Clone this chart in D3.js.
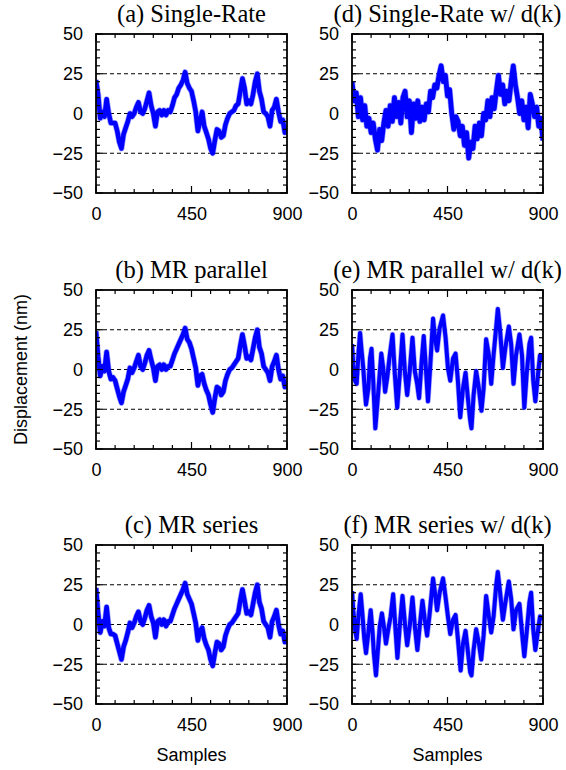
<!DOCTYPE html>
<html>
<head>
<meta charset="utf-8">
<script src="https://cdn.jsdelivr.net/npm/d3@7"></script>
<style>
  body { margin: 0; background: #fff; }
  text { fill: #000; }
</style>
</head>
<body>
<div id="graphicContainer"></div>
<script>
// ---- data (samples vs displacement in nm) ----
var titles = ["(a) Single-Rate", "(b) MR parallel", "(c) MR series",
              "(d) Single-Rate w/ d(k)", "(e) MR parallel w/ d(k)", "(f) MR series w/ d(k)"];

// a-d are read every 10 samples
var grid10 = d3.range(0, 901, 10);

var singleRate = [21,12,-3,1,-2,9,0,-6,-6,-6, -11,-18,-22,-13,-9,-5,0,-2,0,4,
  7,1,0,3,8,13,5,0,-8,1, 2,-1,2,-1,2,1,5,10,12,16, 18,21,26,19,16,14,8,1,-11,-5,
  1,-8,-12,-16,-22,-25,-17,-10,-11,-15, -14,-7,-3,0,1,2,5,6,14,22,
  16,6,8,6,12,20,25,14,9,1, 0,-2,-8,2,4,9,1,-5,-4,-12, -9];

var mrParallel = [24,8,-4,2,-1,11,-1,-6,-5,-7, -12,-17,-21,-14,-10,-6,1,-2,1,5,
  9,2,0,4,9,12,6,1,-7,2, 3,0,3,0,2,2,6,10,13,16, 19,22,26,19,17,13,7,1,-10,-4,
  -3,-9,-13,-16,-22,-27,-18,-11,-12,-16, -14,-7,-3,0,1,3,5,7,15,22,
  15,7,8,6,13,20,25,14,10,2, 0,-2,-7,2,5,9,0,-6,-4,-11, -10];

var mrSeries = [23,7,-5,2,-1,11,-2,-6,-6,-7, -12,-17,-22,-14,-10,-5,1,-2,1,5,
  8,2,0,4,9,12,5,1,-8,2, 3,0,3,-1,2,2,6,10,13,16, 19,22,26,19,16,13,7,1,-10,-4,
  -2,-9,-13,-16,-22,-26,-18,-11,-12,-16, -14,-7,-3,0,1,3,5,7,15,22,
  15,7,8,6,13,20,25,14,10,2, 0,-2,-8,2,5,9,0,-6,-4,-11, -10];

var singleRateD = [20,8,13,-2,10,-4,5,-8,-3,-12, -6,-16,-23,-10,-17,-6,2,-8,5,-5,
  10,-2,7,-6,10,14,-2,8,-12,6, -3,8,-5,4,-4,6,1,14,10,18, 16,24,30,20,24,11,15,0,-10,-2,
  -5,-14,-8,-20,-12,-28,-18,-22,-8,-16, -6,-14,0,-4,8,-2,10,3,14,24,
  12,18,6,14,8,20,30,18,10,0, 8,-4,4,-9,12,6,-2,4,-8,-3, -17];

// e and f are read at their peaks and troughs
var mrParallelDSamples = [0,6,14,22,30,38,45,53,61,66, 77,85,92,100,110,119,128,138,147,156,
  166,178,191,202,213,225,238,249,260,272, 285,296,307,316,327,338,347,358,369,382,
  391,401,413,429,441,452,463,476,488,499, 510,523,535,546,557,563,573,585,598,610,
  620,632,645,656,667,679,687,698,711,723, 739,750,761,773,789,801,812,823,836,844,
  854,864,875,886,898];
var mrParallelD = [16,3,-7,-9,9,23,12,1,-14,-22, -12,7,13,-7,-37,-22,-7,10,1,-14,
  -5,9,22,-3,-24,-3,22,-1,-16,-1, 20,-1,-9,-18,3,21,3,-20,3,32,
  20,12,26,34,20,1,-7,7,10,-7, -30,-12,-2,-18,-32,-37,-16,-1,-12,-26,
  -12,19,9,-9,9,26,38,24,1,14, 27,16,-9,9,22,9,-24,-3,16,20,
  -7,-20,-5,9,5];

var mrSeriesDSamples = [0,6,14,22,30,41,50,58,66,77, 88,97,103,113,122,131,141,150,160,171,
  182,194,205,214,225,238,249,260,272,285, 296,308,319,332,343,354,366,382,391,401,
  413,429,441,452,463,476,488,499,512,523, 535,546,557,563,573,585,598,609,620,632,
  645,656,667,679,687,698,711,723,739,750, 761,773,789,801,812,823,836,844,854,864,
  875,886,898];
var mrSeriesD = [21,9,-3,-9,5,19,5,-9,-18,-5, 9,-5,-18,-32,-16,-1,7,-1,-12,-3,
  5,19,-3,-21,-1,18,1,-13,-1,17, -1,-16,-1,15,3,-7,7,29,20,9,
  20,29,17,5,-6,3,6,-9,-29,-12, -4,-17,-30,-32,-16,-3,-12,-22,-7,18,
  5,-5,5,24,33,20,3,14,27,16, -3,9,13,-5,-20,-5,14,20,-3,-16,
  -5,5,3];

var xTickLabels = [0, 450, 900];
var yTickLabels = [-50, -25, 0, 25, 50];
var gridValues = [-25, 0, 25];

// ---- layout ----
var W = 566, H = 770;
var colX = [96, 352];
var rowY = [34, 290, 545];
var pw = 191, ph = 159;

var panels = [
  { title: titles[0], col: 0, row: 0, xs: grid10, ys: singleRate, w: 4.6 },
  { title: titles[1], col: 0, row: 1, xs: grid10, ys: mrParallel, w: 4.6 },
  { title: titles[2], col: 0, row: 2, xs: grid10, ys: mrSeries, w: 4.6 },
  { title: titles[3], col: 1, row: 0, xs: grid10, ys: singleRateD, w: 4.8 },
  { title: titles[4], col: 1, row: 1, xs: mrParallelDSamples, ys: mrParallelD, w: 4 },
  { title: titles[5], col: 1, row: 2, xs: mrSeriesDSamples, ys: mrSeriesD, w: 4 }
];

var svg = d3.select("#graphicContainer").append("svg")
  .attr("width", W).attr("height", H);

var sans = "'Liberation Sans', Arial, sans-serif";
var serif = "'Liberation Serif', 'Times New Roman', serif";

var x = d3.scaleLinear().domain([0, 900]).range([0, pw]);
var y = d3.scaleLinear().domain([-50, 50]).range([ph, 0]);

panels.forEach(function(p, i) {
  var g = svg.append("g")
    .attr("transform", "translate(" + colX[p.col] + "," + rowY[p.row] + ")");

  g.append("clipPath").attr("id", "clip" + i)
    .append("rect").attr("width", pw).attr("height", ph);

  // dashed reference lines
  g.selectAll(".grid").data(gridValues).enter().append("line")
    .attr("x1", 0).attr("x2", pw)
    .attr("y1", d => y(d)).attr("y2", d => y(d))
    .attr("stroke", "#000").attr("stroke-width", 1)
    .attr("stroke-dasharray", "4,3");

  // trace: a soft wide band under a solid core, like the dense noisy record
  var pts = p.xs.map((s, k) => [s, p.ys[k]]);
  var line = d3.line().x(d => x(d[0])).y(d => y(d[1]));
  g.append("path").datum(pts)
    .attr("clip-path", "url(#clip" + i + ")")
    .attr("d", line)
    .attr("fill", "none")
    .attr("stroke", "#4040ff").attr("stroke-opacity", 0.45)
    .attr("stroke-width", p.w + 1.4)
    .attr("stroke-linejoin", "round");
  g.append("path").datum(pts)
    .attr("clip-path", "url(#clip" + i + ")")
    .attr("d", line)
    .attr("fill", "none")
    .attr("stroke", "#0000ff")
    .attr("stroke-width", p.w)
    .attr("stroke-linejoin", "round");

  // inward ticks on all four sides
  var xt = d3.range(0, 901, 90);
  var yt = d3.range(-50, 51, 5);
  var tk = g.append("g").attr("stroke", "#000").attr("stroke-width", 1.2);
  xt.forEach(function(v) {
    var len = (v % 450 == 0) ? 7 : 4;
    tk.append("line").attr("x1", x(v)).attr("x2", x(v)).attr("y1", ph).attr("y2", ph - len);
    tk.append("line").attr("x1", x(v)).attr("x2", x(v)).attr("y1", 0).attr("y2", len);
  });
  yt.forEach(function(v) {
    var len = (v % 25 == 0) ? 7 : 4;
    tk.append("line").attr("x1", 0).attr("x2", len).attr("y1", y(v)).attr("y2", y(v));
    tk.append("line").attr("x1", pw).attr("x2", pw - len).attr("y1", y(v)).attr("y2", y(v));
  });

  // frame
  g.append("rect").attr("width", pw).attr("height", ph)
    .attr("fill", "none").attr("stroke", "#000").attr("stroke-width", 1.8);

  // tick labels
  var ax = g.append("g").attr("transform", "translate(0," + ph + ")")
    .call(d3.axisBottom(x).tickValues(xTickLabels).tickSize(0).tickPadding(14));
  var ay = g.append("g")
    .call(d3.axisLeft(y).tickValues(yTickLabels).tickSize(0).tickPadding(13));
  [ax, ay].forEach(function(a) {
    a.select(".domain").remove();
    a.selectAll("text").attr("font-family", sans).attr("font-size", 18).attr("fill", "#000");
  });

  // panel title
  g.append("text")
    .attr("x", pw / 2).attr("y", -12)
    .attr("text-anchor", "middle")
    .attr("font-family", serif).attr("font-size", 24.5)
    .text(p.title);

  if (p.row == 2) {
    g.append("text")
      .attr("x", pw / 2).attr("y", ph + 57)
      .attr("text-anchor", "middle")
      .attr("font-family", sans).attr("font-size", 18)
      .text("Samples");
  }
});

svg.append("text")
  .attr("transform", "translate(27," + (rowY[1] + ph / 2) + ") rotate(-90)")
  .attr("text-anchor", "middle")
  .attr("font-family", sans).attr("font-size", 18)
  .text("Displacement (nm)");
</script>
</body>
</html>
